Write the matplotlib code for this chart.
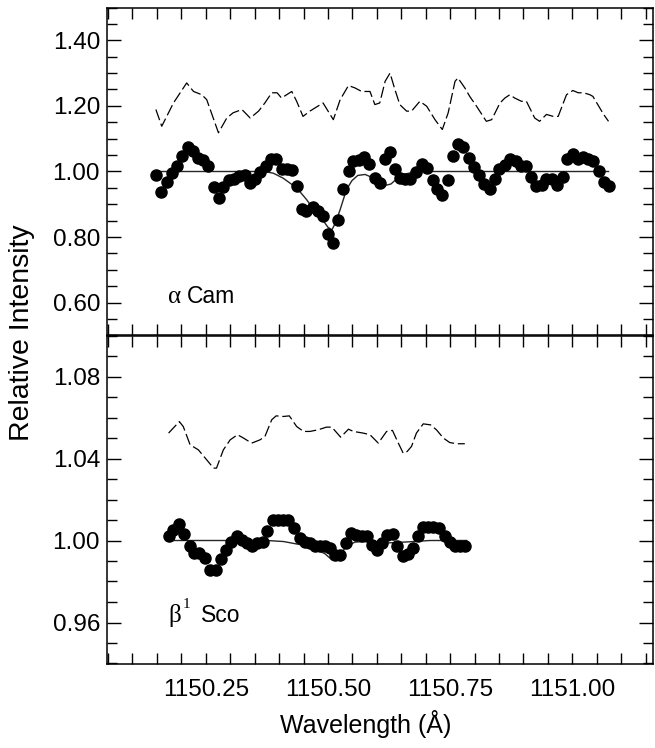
import matplotlib
matplotlib.use("Agg")
import matplotlib.pyplot as plt
from matplotlib.ticker import MultipleLocator

plt.rcParams['font.family'] = ['Liberation Sans', 'DejaVu Sans']

# alpha Cam - observed points
cam_wave = [1150.148, 1150.159, 1150.170, 1150.181, 1150.191, 1150.202, 1150.213, 1150.223, 1150.235, 1150.245,
            1150.255, 1150.266, 1150.277, 1150.286, 1150.297, 1150.308, 1150.319, 1150.330, 1150.341, 1150.351,
            1150.362, 1150.373, 1150.383, 1150.394, 1150.405, 1150.416, 1150.426, 1150.436, 1150.446, 1150.456,
            1150.469, 1150.480, 1150.490, 1150.501, 1150.511, 1150.521, 1150.531, 1150.543, 1150.552, 1150.564,
            1150.574, 1150.584, 1150.596, 1150.606, 1150.617, 1150.627, 1150.638, 1150.647, 1150.657, 1150.668,
            1150.681, 1150.692, 1150.703, 1150.714, 1150.723, 1150.734, 1150.746, 1150.756,
            1150.766, 1150.777, 1150.788, 1150.798, 1150.809, 1150.819, 1150.831, 1150.841, 1150.850, 1150.862,
            1150.872, 1150.884, 1150.894, 1150.906, 1150.915, 1150.925, 1150.937, 1150.947, 1150.959, 1150.969,
            1150.980, 1150.989, 1151.001, 1151.012, 1151.022, 1151.032, 1151.042, 1151.055, 1151.064, 1151.074]
cam_int = [0.988, 0.937, 0.967, 0.994, 1.018, 1.047, 1.075, 1.062, 1.042, 1.034,
           1.016, 0.952, 0.918, 0.952, 0.974, 0.976, 0.986, 0.988, 0.966, 0.976,
           0.998, 1.018, 1.037, 1.037, 1.009, 1.009, 1.006, 0.955, 0.886, 0.879,
           0.893, 0.879, 0.864, 0.808, 0.781, 0.852, 0.948, 1.003, 1.031, 1.034,
           1.045, 1.024, 0.981, 0.966, 1.037, 1.059, 1.009, 0.979, 0.978, 0.978,
           0.998, 1.024, 1.011, 0.974, 0.948, 0.927, 0.974, 1.047,
           1.085, 1.075, 1.042, 1.013, 0.988, 0.963, 0.948, 0.976, 1.009, 1.021,
           1.037, 1.031, 1.016, 1.018, 0.984, 0.955, 0.960, 0.976, 0.976, 0.960,
           0.984, 1.037, 1.052, 1.039, 1.044, 1.039, 1.031, 1.001, 0.967, 0.955]

# alpha Cam - model profile
cam_fit_wave = [1150.148, 1150.353, 1150.373, 1150.388, 1150.408, 1150.422, 1150.436, 1150.456, 1150.473,
                1150.488, 1150.500, 1150.508, 1150.516, 1150.525, 1150.538, 1150.549, 1150.561, 1150.576,
                1150.590, 1150.604, 1150.616, 1150.629, 1150.641, 1150.657, 1150.678, 1150.709, 1151.074]
cam_fit = [1.000, 1.000, 0.999, 0.995, 0.980, 0.965, 0.950, 0.915, 0.880,
           0.855, 0.830, 0.822, 0.845, 0.884, 0.945, 0.972, 0.988, 0.991,
           0.982, 0.966, 0.957, 0.962, 0.978, 0.992, 0.999, 1.000, 1.000]

# alpha Cam - dashed comparison spectrum
cam_dash_wave = [1150.148, 1150.160, 1150.184, 1150.211, 1150.225, 1150.242, 1150.252, 1150.276, 1150.293,
                 1150.306, 1150.324, 1150.341, 1150.358, 1150.371, 1150.385, 1150.396, 1150.405, 1150.426,
                 1150.436, 1150.449, 1150.463, 1150.490, 1150.511, 1150.525, 1150.542, 1150.555, 1150.569,
                 1150.586, 1150.596, 1150.606, 1150.617, 1150.627, 1150.637, 1150.647, 1150.661, 1150.671,
                 1150.688, 1150.702, 1150.719, 1150.734, 1150.746, 1150.760, 1150.766, 1150.780, 1150.790,
                 1150.804, 1150.824, 1150.835, 1150.852, 1150.862, 1150.872, 1150.882, 1150.896, 1150.906,
                 1150.923, 1150.933, 1150.947, 1150.961, 1150.971, 1150.988, 1151.001, 1151.012, 1151.023,
                 1151.036, 1151.042, 1151.056, 1151.064, 1151.074]
cam_dash = [1.189, 1.138, 1.209, 1.270, 1.244, 1.234, 1.219, 1.118, 1.163,
            1.179, 1.189, 1.163, 1.184, 1.209, 1.240, 1.240, 1.224, 1.244,
            1.214, 1.168, 1.184, 1.209, 1.158, 1.219, 1.262, 1.255, 1.244,
            1.244, 1.204, 1.209, 1.275, 1.300, 1.250, 1.204, 1.184, 1.184,
            1.214, 1.199, 1.158, 1.128, 1.179, 1.275, 1.285, 1.255, 1.229,
            1.199, 1.153, 1.158, 1.209, 1.224, 1.234, 1.224, 1.214, 1.214,
            1.163, 1.153, 1.174, 1.168, 1.168, 1.234, 1.247, 1.240, 1.240,
            1.234, 1.229, 1.194, 1.174, 1.153]

# beta1 Sco - observed points
sco_wave = [1150.174, 1150.184, 1150.196, 1150.206, 1150.217, 1150.226, 1150.237, 1150.249, 1150.259, 1150.271,
            1150.281, 1150.292, 1150.302, 1150.313, 1150.324, 1150.334, 1150.344, 1150.354, 1150.367, 1150.376,
            1150.387, 1150.398, 1150.409, 1150.419, 1150.430, 1150.443, 1150.453, 1150.463, 1150.473, 1150.484,
            1150.494, 1150.504, 1150.514, 1150.525, 1150.537, 1150.547, 1150.557, 1150.569, 1150.580, 1150.591,
            1150.601, 1150.610, 1150.621, 1150.633, 1150.642, 1150.654, 1150.664, 1150.674, 1150.685, 1150.695,
            1150.705, 1150.715, 1150.728, 1150.739, 1150.749, 1150.760, 1150.770, 1150.780]
sco_int = [1.0023, 1.0052, 1.0081, 1.0033, 0.9971, 0.9941, 0.9941, 0.9914, 0.9857, 0.9857,
           0.9909, 0.9955, 0.9995, 1.0020, 1.0003, 0.9987, 0.9974, 0.9987, 0.9995, 1.0044,
           1.0101, 1.0101, 1.0101, 1.0098, 1.0060, 1.0012, 0.9995, 0.9987, 0.9975, 0.9971,
           0.9971, 0.9963, 0.9930, 0.9930, 0.9990, 1.0036, 1.0028, 1.0023, 1.0023, 0.9979,
           0.9955, 0.9987, 1.0028, 1.0031, 0.9974, 0.9922, 0.9935, 0.9963, 1.0020, 1.0068,
           1.0068, 1.0068, 1.0063, 1.0023, 0.9995, 0.9971, 0.9971, 0.9971]

# beta1 Sco - model profile
sco_fit_wave = [1150.174, 1150.375, 1150.409, 1150.443, 1150.478, 1150.494, 1150.508, 1150.525,
                1150.538, 1150.555, 1150.580, 1150.621, 1150.662, 1150.709, 1150.784]
sco_fit = [1.0000, 1.0000, 0.9995, 0.9980, 0.9955, 0.9935, 0.9906, 0.9935,
           0.9970, 0.9992, 0.9996, 0.9988, 0.9993, 1.0000, 1.0000]

# beta1 Sco - dashed comparison spectrum
sco_dash_wave = [1150.174, 1150.196, 1150.204, 1150.218, 1150.235, 1150.249, 1150.266, 1150.272, 1150.286,
                 1150.300, 1150.315, 1150.327, 1150.344, 1150.361, 1150.371, 1150.385, 1150.394, 1150.409,
                 1150.421, 1150.436, 1150.450, 1150.463, 1150.480, 1150.497, 1150.508, 1150.526, 1150.542,
                 1150.552, 1150.572, 1150.586, 1150.603, 1150.620, 1150.632, 1150.644, 1150.654, 1150.662,
                 1150.671, 1150.681, 1150.695, 1150.710, 1150.722, 1150.736, 1150.749, 1150.763, 1150.780]
sco_dash = [1.0524, 1.0580, 1.0556, 1.0467, 1.0442, 1.0402, 1.0353, 1.0353, 1.0442,
            1.0491, 1.0516, 1.0500, 1.0475, 1.0491, 1.0507, 1.0589, 1.0608, 1.0605,
            1.0608, 1.0556, 1.0532, 1.0532, 1.0540, 1.0553, 1.0553, 1.0504, 1.0543,
            1.0532, 1.0524, 1.0516, 1.0475, 1.0532, 1.0537, 1.0475, 1.0426, 1.0434,
            1.0459, 1.0524, 1.0569, 1.0564, 1.0540, 1.0500, 1.0478, 1.0472, 1.0472]

fig = plt.figure(figsize=(6.55, 7.48), dpi=100)
left = 107 / 655
width = 546 / 655
ax1 = fig.add_axes([left, 1 - 335.5 / 748, width, 328 / 748])
ax2 = fig.add_axes([left, 1 - 663.5 / 748, width, 328 / 748], sharex=ax1)


def draw_panel(ax, wave, inten, fwave, fit, dwave, dash):
    ax.plot(dwave, dash, color='black', lw=0.9, dashes=(9, 3))
    ax.plot(fwave, fit, color='0.15', lw=1.0)
    ax.plot(wave, inten, 'o', color='black', ms=8, mec='black')
    ax.tick_params(which='both', direction='in', top=True, right=True, labelsize=17.5)
    ax.tick_params(which='major', length=10, width=1)
    ax.tick_params(which='minor', length=7, width=1)
    ax.tick_params(axis='x', which='both', length=8)
    for s in ax.spines.values():
        s.set_linewidth(1.1)


draw_panel(ax1, cam_wave, cam_int, cam_fit_wave, cam_fit, cam_dash_wave, cam_dash)
draw_panel(ax2, sco_wave, sco_int, sco_fit_wave, sco_fit, sco_dash_wave, sco_dash)

ax1.set_xlim(1150.048, 1151.165)
ax2.xaxis.set_major_locator(MultipleLocator(0.25))
ax2.xaxis.set_minor_locator(MultipleLocator(0.05))
ax2.xaxis.set_major_formatter(plt.FormatStrFormatter('%.2f'))
plt.setp(ax1.get_xticklabels(), visible=False)

ax1.set_ylim(0.50, 1.50)
ax1.set_yticks([0.6, 0.8, 1.0, 1.2, 1.4])
ax1.yaxis.set_minor_locator(MultipleLocator(0.05))
ax1.yaxis.set_major_formatter(plt.FormatStrFormatter('%.2f'))

ax2.set_ylim(0.94, 1.10)
ax2.set_yticks([0.96, 1.00, 1.04, 1.08])
ax2.yaxis.set_minor_locator(MultipleLocator(0.01))
ax2.yaxis.set_major_formatter(plt.FormatStrFormatter('%.2f'))

for ax in (ax1, ax2):
    ax.tick_params(axis='x', pad=11)
    ax.tick_params(axis='y', pad=5)

fig.text(366 / 655, 1 - 724 / 748, 'Wavelength (Å)', fontsize=18, ha='center', va='center')
fig.text(0.034, 1 - 333 / 748, 'Relative Intensity', rotation=90, fontsize=20.5,
         ha='center', va='center')

# star labels
ax1.text(0.112, 0.099, 'α', family='Liberation Serif', fontsize=18, transform=ax1.transAxes)
ax1.text(0.146, 0.099, 'Cam', fontsize=16.5, transform=ax1.transAxes)
ax2.text(0.112, 0.128, 'β', family='Liberation Serif', fontsize=18, transform=ax2.transAxes)
ax2.text(0.138, 0.168, '1', family='Liberation Serif', fontsize=11, transform=ax2.transAxes)
ax2.text(0.172, 0.128, 'Sco', fontsize=16.5, transform=ax2.transAxes)

fig.savefig('out.png', dpi=100)
